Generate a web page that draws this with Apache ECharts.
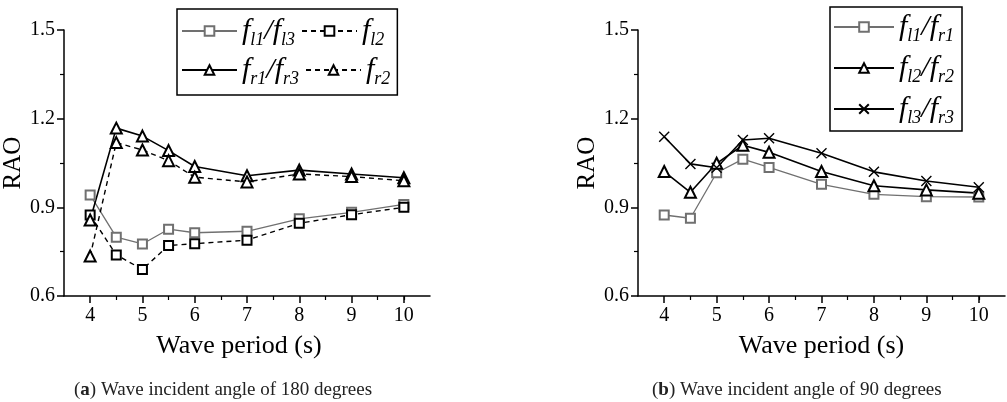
<!DOCTYPE html>
<html>
<head>
<meta charset="utf-8">
<script src="https://cdn.jsdelivr.net/npm/echarts@6/dist/echarts.min.js"></script>
<style>html,body{margin:0;padding:0;background:#fff}#c{width:1007px;height:402px}</style>
</head>
<body>
<div id="c"></div>
<script>
// ---- data ----
const periods = [4, 4.5, 5, 5.5, 6, 7, 8, 9, 10];
const xMajorTicks = [4, 5, 6, 7, 8, 9, 10];
const xMinorTicks = [4.5, 5.5, 6.5, 7.5, 8.5, 9.5, 10];
const yTicks = [0.6, 0.9, 1.2, 1.5];

// (a) 180 degrees
const a_fl1_fl3 = [0.942, 0.799, 0.776, 0.826, 0.814, 0.819, 0.861, 0.883, 0.910];
const a_fl2     = [0.874, 0.739, 0.690, 0.771, 0.777, 0.789, 0.846, 0.875, 0.900];
const a_fr1_fr3 = [0.857, 1.168, 1.141, 1.092, 1.038, 1.007, 1.026, 1.013, 1.000];
const a_fr2     = [0.735, 1.119, 1.094, 1.058, 1.002, 0.986, 1.013, 1.004, 0.990];
// (b) 90 degrees
const b_fl1_fr1 = [0.874, 0.863, 1.017, 1.063, 1.035, 0.978, 0.944, 0.936, 0.935];
const b_fl2_fr2 = [1.021, 0.951, 1.049, 1.110, 1.086, 1.021, 0.973, 0.959, 0.948];
const b_fl3_fr3 = [1.139, 1.047, 1.034, 1.128, 1.134, 1.083, 1.020, 0.989, 0.968];

const legendRich = {
  'fl1/fl3': '{i|f}{s|l1}{i|/f}{s|l3}',
  'fl2': '{i|f}{s|l2}',
  'fr1/fr3': '{i|f}{s|r1}{i|/f}{s|r3}',
  'fr2': '{i|f}{s|r2}',
  'fl1/fr1': '{i|f}{s|l1}{i|/f}{s|r1}',
  'fl2/fr2': '{i|f}{s|l2}{i|/f}{s|r2}',
  'fl3/fr3': '{i|f}{s|l3}{i|/f}{s|r3}'
};

const SERIF = 'Liberation Serif';
const pairs = ys => periods.map((p, i) => [p, ys[i]]);

const rich = {
  i: {fontFamily: SERIF, fontStyle: 'italic', fontSize: 30, lineHeight: 36, color: '#000'},
  s: {fontFamily: SERIF, fontStyle: 'italic', fontSize: 18, lineHeight: 14, verticalAlign: 'bottom', color: '#000'}
};

function xAxes(gi, namePad) {
  return [{
    type: 'value', gridIndex: gi, min: 3.5, max: 10.5, position: 'bottom',
    name: 'Wave period (s)', nameLocation: 'middle', nameGap: 37,
    nameTextStyle: {fontFamily: SERIF, fontSize: 26, color: '#000', padding: namePad},
    axisLine: {show: true, lineStyle: {color: '#000', width: 1.5}},
    axisTick: {show: true, inside: false, length: 7, customValues: xMajorTicks, lineStyle: {color: '#000', width: 1.5}},
    axisLabel: {customValues: xMajorTicks, margin: 10, fontFamily: SERIF, fontSize: 20, color: '#000'},
    splitLine: {show: false}
  }, {
    type: 'value', gridIndex: gi, min: 3.5, max: 10.5, position: 'bottom', offset: 0,
    axisLine: {show: false},
    axisTick: {show: true, length: 4, customValues: xMinorTicks, lineStyle: {color: '#000', width: 1.2}},
    axisLabel: {show: false},
    splitLine: {show: false}
  }];
}
function yAxis(gi) {
  return {
    type: 'value', gridIndex: gi, min: 0.6, max: 1.5, interval: 0.3,
    name: 'RAO', nameLocation: 'middle', nameGap: 33,
    nameTextStyle: {fontFamily: SERIF, fontSize: 25, color: '#000'},
    axisLine: {show: true, lineStyle: {color: '#000', width: 1.5}},
    axisTick: {show: true, length: 7, lineStyle: {color: '#000', width: 1.5}},
    minorTick: {show: true, splitNumber: 2, length: 4, lineStyle: {color: '#000', width: 1.2}},
    axisLabel: {customValues: yTicks, margin: 9, fontFamily: SERIF, fontSize: 20, color: '#000',
      formatter: v => v.toFixed(1)},
    splitLine: {show: false}, minorSplitLine: {show: false}
  };
}
function line(name, ys, xi, yi, opt) {
  return Object.assign({
    name, type: 'line', xAxisIndex: xi, yAxisIndex: yi, data: pairs(ys),
    symbolSize: 9, animation: false, z: 3
  }, opt);
}

const GRAY = '#707070';
const capStyle = {fontFamily: SERIF, fontSize: 19, fontWeight: 'normal', color: '#222',
  rich: {b: {fontFamily: SERIF, fontSize: 19, fontWeight: 'bold', color: '#222'}}};
const option = {
  backgroundColor: '#fff',
  animation: false,
  title: [
    {text: '({b|a}) Wave incident angle of 180 degrees', left: 69, top: 376, textStyle: capStyle},
    {text: '({b|b}) Wave incident angle of 90 degrees', left: 647, top: 376, textStyle: capStyle}
  ],
  grid: [
    {left: 64, top: 30, width: 366, height: 266},
    {left: 638, top: 30, width: 367, height: 266}
  ],
  xAxis: [...xAxes(0, [0, 16, 0, 0]), ...xAxes(1, [0, 0, 0, 0])],
  yAxis: [yAxis(0), yAxis(1)],
  legend: [
    {data: ['fl1/fl3', 'fl2', 'fr1/fr3', 'fr2'], left: 177, top: 9, width: 220,
     orient: 'horizontal', itemWidth: 55, itemHeight: 12, itemGap: 6,
     padding: [7, 7, 7, 4], borderColor: '#000', borderWidth: 1.5,
     formatter: n => legendRich[n], textStyle: {rich}},
    {data: ['fl1/fr1', 'fl2/fr2', 'fl3/fr3'], left: 830, top: 7,
     orient: 'vertical', itemWidth: 60, itemHeight: 12, itemGap: 8,
     padding: [5, 8, 4, 3], borderColor: '#000', borderWidth: 1.5,
     formatter: n => legendRich[n], textStyle: {rich}}
  ],
  series: [
    line('fl1/fl3', a_fl1_fl3, 0, 0, {symbol: 'emptyRect', symbolSize: 9,
      lineStyle: {color: GRAY, width: 1.3}, itemStyle: {color: GRAY, borderWidth: 1.3}}),
    line('fl2', a_fl2, 0, 0, {symbol: 'emptyRect', symbolSize: 9,
      lineStyle: {color: '#000', width: 1.4, type: [5, 4]}, itemStyle: {color: '#000', borderWidth: 1.2}}),
    line('fr1/fr3', a_fr1_fr3, 0, 0, {symbol: 'emptyTriangle', symbolSize: 11,
      lineStyle: {color: '#000', width: 1.6}, itemStyle: {color: '#000', borderWidth: 1.2}}),
    line('fr2', a_fr2, 0, 0, {symbol: 'emptyTriangle', symbolSize: 11,
      lineStyle: {color: '#000', width: 1.4, type: [5, 4]}, itemStyle: {color: '#000', borderWidth: 1.2}}),
    line('fl1/fr1', b_fl1_fr1, 2, 1, {symbol: 'emptyRect', symbolSize: 9,
      lineStyle: {color: GRAY, width: 1.3}, itemStyle: {color: GRAY, borderWidth: 1.3}}),
    line('fl2/fr2', b_fl2_fr2, 2, 1, {symbol: 'emptyTriangle', symbolSize: 11,
      lineStyle: {color: '#000', width: 1.6}, itemStyle: {color: '#000', borderWidth: 1.2}}),
    line('fl3/fr3', b_fl3_fr3, 2, 1, {symbol: 'path://M0,0L10,10M10,0L0,10', symbolSize: 10,
      lineStyle: {color: '#000', width: 1.6}, itemStyle: {color: 'rgba(0,0,0,0)', borderColor: '#000', borderWidth: 1.4}})
  ]
};
const chart = echarts.init(document.getElementById('c'), null, {renderer: 'canvas'});
chart.setOption(option);
</script>
</body>
</html>
